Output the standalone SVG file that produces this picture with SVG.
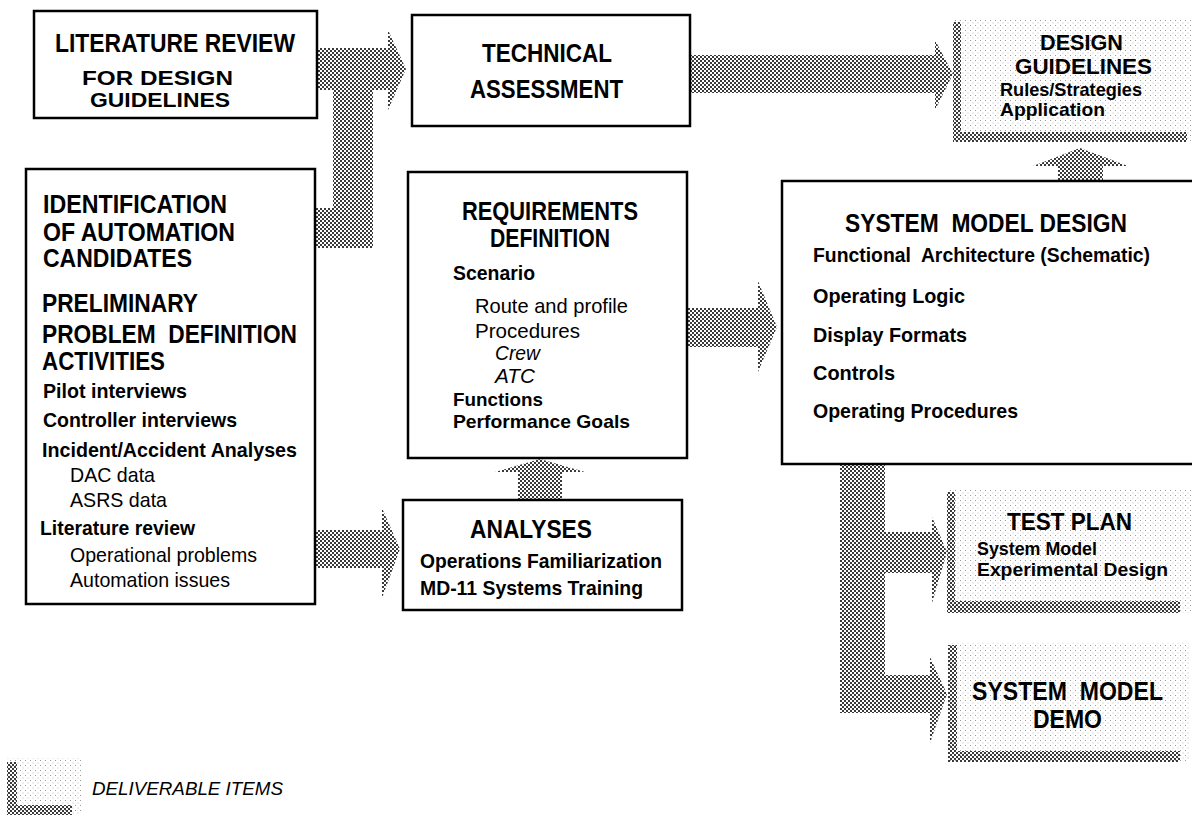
<svg xmlns="http://www.w3.org/2000/svg" width="1192" height="821" viewBox="0 0 1192 821">
<defs>
<pattern id="dense" width="4" height="4" patternUnits="userSpaceOnUse">
<rect x="0" y="0" width="2" height="2" fill="#3a3a3a"/>
<rect x="2" y="2" width="2" height="2" fill="#3a3a3a"/>
</pattern>
<pattern id="light" width="5" height="5" patternUnits="userSpaceOnUse">
<rect x="0" y="0" width="1" height="1" fill="#9a9a9a"/>
<rect x="2.5" y="2.5" width="1" height="1" fill="#bcbcbc"/>
</pattern>
<style>
.box{fill:#fff;stroke:#000;stroke-width:2.5}
.open{fill:none;stroke:#000;stroke-width:2.5}
.arrow{fill:url(#dense)}
.dlv{fill:url(#light)}
.edge{fill:url(#dense)}
text{font-family:"Liberation Sans",Arial,sans-serif;fill:#000}
.h{font-size:25px;font-weight:bold}
.b{font-size:21px;font-weight:bold}
.r{font-size:21px}
.i{font-size:20px;font-style:italic}
</style>
</defs>
<rect width="1192" height="821" fill="#fff"/>

<g id="connectors">
<polygon class="arrow" points="317,48 388,48 388,30 406,69 388,110 388,90 373,90 373,248 315,248 315,208 333,208 333,90 317,90"/>
<polygon class="arrow" points="690,55 935,55 935,40 953,74 935,110 935,93 690,93"/>
<polygon class="arrow" points="687,308 758,308 758,281 777,327 758,372 758,347 687,347"/>
<polygon class="arrow" points="518,500 518,472 495,472 540,459 585,472 562,472 562,500"/>
<polygon class="arrow" points="315,530 382,530 382,508 400,549 382,598 382,568 315,568"/>
<polygon class="arrow" points="1058,181 1058,166 1033,166 1080,148 1128,166 1103,166 1103,181"/>
<polygon class="arrow" points="840,464 885,464 885,532 932,532 932,517 947,552 932,603 932,573 885,573 885,675 930,675 930,657 947,694 930,743 930,713 840,713"/>
</g>

<g id="lit-review">
<rect class="box" x="34" y="11" width="283" height="107"/>
<text class="h" x="55" y="52" textLength="240" lengthAdjust="spacingAndGlyphs">LITERATURE REVIEW</text>
<text class="h" x="82" y="85" style="font-size:20px" textLength="151" lengthAdjust="spacingAndGlyphs">FOR DESIGN</text>
<text class="h" x="90" y="107" style="font-size:20px" textLength="140" lengthAdjust="spacingAndGlyphs">GUIDELINES</text>
</g>

<g id="tech-assessment">
<rect class="box" x="412" y="15" width="278" height="111"/>
<text class="h" x="482" y="62" style="font-size:26px" textLength="130" lengthAdjust="spacingAndGlyphs">TECHNICAL</text>
<text class="h" x="470" y="98" style="font-size:26px" textLength="153" lengthAdjust="spacingAndGlyphs">ASSESSMENT</text>
</g>

<g id="design-guidelines">
<rect class="dlv" x="953" y="20" width="239" height="122"/>
<rect class="edge" x="953" y="22" width="8" height="120"/>
<rect class="edge" x="953" y="132" width="234" height="10"/>
<text class="h" x="1040" y="50" style="font-size:22px" textLength="83" lengthAdjust="spacingAndGlyphs">DESIGN</text>
<text class="h" x="1015" y="74" style="font-size:22px" textLength="137" lengthAdjust="spacingAndGlyphs">GUIDELINES</text>
<text class="b" x="1000" y="96" style="font-size:19px" textLength="142" lengthAdjust="spacingAndGlyphs">Rules/Strategies</text>
<text class="b" x="1000" y="116" style="font-size:19px" textLength="105" lengthAdjust="spacingAndGlyphs">Application</text>
</g>

<g id="identification">
<rect class="box" x="26" y="169" width="289" height="435"/>
<text class="h" x="43" y="213" textLength="184" lengthAdjust="spacingAndGlyphs">IDENTIFICATION</text>
<text class="h" x="43" y="241" textLength="192" lengthAdjust="spacingAndGlyphs">OF AUTOMATION</text>
<text class="h" x="43" y="267" textLength="149" lengthAdjust="spacingAndGlyphs">CANDIDATES</text>
<text class="h" x="42" y="312" textLength="156" lengthAdjust="spacingAndGlyphs">PRELIMINARY</text>
<text class="h" x="42" y="343" xml:space="preserve" textLength="255" lengthAdjust="spacingAndGlyphs">PROBLEM  DEFINITION</text>
<text class="h" x="42" y="370" textLength="123" lengthAdjust="spacingAndGlyphs">ACTIVITIES</text>
<text class="b" x="43" y="398" textLength="144" lengthAdjust="spacingAndGlyphs">Pilot interviews</text>
<text class="b" x="43" y="427" textLength="194" lengthAdjust="spacingAndGlyphs">Controller interviews</text>
<text class="b" x="42" y="457" textLength="255" lengthAdjust="spacingAndGlyphs">Incident/Accident Analyses</text>
<text class="r" x="70" y="482" textLength="85" lengthAdjust="spacingAndGlyphs">DAC data</text>
<text class="r" x="70" y="507" textLength="97" lengthAdjust="spacingAndGlyphs">ASRS data</text>
<text class="b" x="40" y="535" textLength="155" lengthAdjust="spacingAndGlyphs">Literature review</text>
<text class="r" x="70" y="562" textLength="187" lengthAdjust="spacingAndGlyphs">Operational problems</text>
<text class="r" x="70" y="587" textLength="160" lengthAdjust="spacingAndGlyphs">Automation issues</text>
</g>

<g id="requirements">
<rect class="box" x="408" y="172" width="279" height="286"/>
<text class="h" x="462" y="220" textLength="176" lengthAdjust="spacingAndGlyphs">REQUIREMENTS</text>
<text class="h" x="490" y="247" textLength="120" lengthAdjust="spacingAndGlyphs">DEFINITION</text>
<text class="b" x="453" y="280" textLength="82" lengthAdjust="spacingAndGlyphs">Scenario</text>
<text class="r" x="475" y="313" textLength="153" lengthAdjust="spacingAndGlyphs">Route and profile</text>
<text class="r" x="475" y="338" textLength="105" lengthAdjust="spacingAndGlyphs">Procedures</text>
<text class="i" x="495" y="360" textLength="45" lengthAdjust="spacingAndGlyphs">Crew</text>
<text class="i" x="495" y="383" textLength="40" lengthAdjust="spacingAndGlyphs">ATC</text>
<text class="b" x="453" y="406" style="font-size:19px" textLength="90" lengthAdjust="spacingAndGlyphs">Functions</text>
<text class="b" x="453" y="428" style="font-size:19px" textLength="177" lengthAdjust="spacingAndGlyphs">Performance Goals</text>
</g>

<g id="analyses">
<rect class="box" x="403" y="500" width="279" height="110"/>
<text class="h" x="470" y="538" textLength="122" lengthAdjust="spacingAndGlyphs">ANALYSES</text>
<text class="b" x="420" y="568" textLength="242" lengthAdjust="spacingAndGlyphs">Operations Familiarization</text>
<text class="b" x="420" y="595" textLength="223" lengthAdjust="spacingAndGlyphs">MD-11 Systems Training</text>
</g>

<g id="system-model-design">
<rect x="782" y="181" width="410" height="283" fill="#fff"/>
<path class="open" d="M1192,181 L782,181 L782,464 L1192,464"/>
<text class="h" x="845" y="232" xml:space="preserve" textLength="282" lengthAdjust="spacingAndGlyphs">SYSTEM  MODEL DESIGN</text>
<text class="b" x="813" y="262" xml:space="preserve" textLength="337" lengthAdjust="spacingAndGlyphs">Functional  Architecture (Schematic)</text>
<text class="b" x="813" y="303" textLength="152" lengthAdjust="spacingAndGlyphs">Operating Logic</text>
<text class="b" x="813" y="342" textLength="154" lengthAdjust="spacingAndGlyphs">Display Formats</text>
<text class="b" x="813" y="380" textLength="82" lengthAdjust="spacingAndGlyphs">Controls</text>
<text class="b" x="813" y="418" textLength="205" lengthAdjust="spacingAndGlyphs">Operating Procedures</text>
</g>

<g id="test-plan">
<rect class="dlv" x="947" y="490" width="245" height="123"/>
<rect class="edge" x="947" y="492" width="8" height="121"/>
<rect class="edge" x="947" y="601" width="233" height="12"/>
<text class="h" x="1007" y="530" style="font-size:24px" textLength="125" lengthAdjust="spacingAndGlyphs">TEST PLAN</text>
<text class="b" x="977" y="555" style="font-size:19px" textLength="120" lengthAdjust="spacingAndGlyphs">System Model</text>
<text class="b" x="977" y="576" style="font-size:19px" textLength="191" lengthAdjust="spacingAndGlyphs">Experimental Design</text>
</g>

<g id="system-model-demo">
<rect class="dlv" x="948" y="643" width="242" height="119"/>
<rect class="edge" x="948" y="645" width="9" height="117"/>
<rect class="edge" x="948" y="751" width="232" height="11"/>
<text class="h" x="972" y="700" xml:space="preserve" textLength="191" lengthAdjust="spacingAndGlyphs">SYSTEM  MODEL</text>
<text class="h" x="1033" y="728" textLength="69" lengthAdjust="spacingAndGlyphs">DEMO</text>
</g>

<g id="legend">
<rect class="dlv" x="7" y="758" width="75" height="57"/>
<rect class="edge" x="7" y="762" width="10" height="53"/>
<rect class="edge" x="7" y="805" width="65" height="10"/>
<text x="92" y="795" style="font-size:19px;font-style:italic" textLength="191" lengthAdjust="spacingAndGlyphs">DELIVERABLE ITEMS</text>
</g>
</svg>
